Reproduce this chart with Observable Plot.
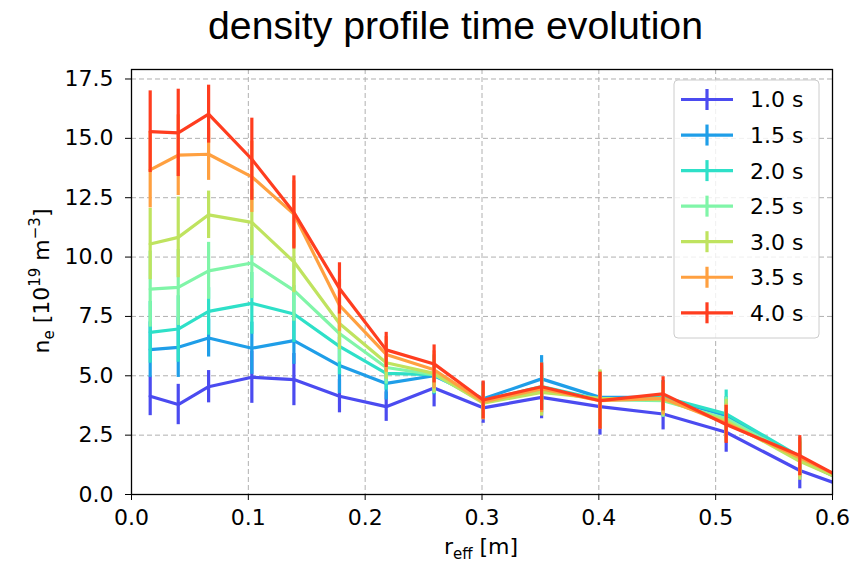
<!DOCTYPE html>
<html><head><meta charset="utf-8">
<script src="https://cdn.jsdelivr.net/npm/d3@7"></script>
<script src="https://cdn.jsdelivr.net/npm/@observablehq/plot@0.6"></script>
<style>body{margin:0;background:#fff;} svg{display:block}</style>
</head><body><div id="chart"></div>
<script>
// r_eff positions [m]
const reff = [0.016, 0.040, 0.066, 0.103, 0.139, 0.178, 0.218, 0.259, 0.301, 0.351, 0.401, 0.455, 0.509, 0.572, 0.600];
const times = ["1.0 s", "1.5 s", "2.0 s", "2.5 s", "3.0 s", "3.5 s", "4.0 s"];
const colors = ["#4b4bf0", "#1f9ee8", "#2ee0c8", "#80f5a8", "#bfe35f", "#ffa040", "#ff3d1f"];
// n_e values [1e19 m^-3]
const ne_10 = [4.14, 3.79, 4.54, 4.94, 4.84, 4.14, 3.70, 4.49, 3.65, 4.09, 3.70, 3.39, 2.62, 1.01, 0.52];
const ne_15 = [6.10, 6.20, 6.59, 6.16, 6.48, 5.43, 4.68, 5.00, 4.03, 4.87, 4.09, 4.09, 3.32, 1.46, 0.80];
const ne_20 = [6.83, 6.97, 7.71, 8.05, 7.60, 6.24, 5.10, 5.05, 3.95, 4.55, 4.00, 4.10, 3.40, 1.60, 0.85];
const ne_25 = [8.65, 8.72, 9.42, 9.75, 8.60, 6.78, 5.35, 5.05, 3.90, 4.40, 4.00, 3.95, 3.20, 1.50, 0.85];
const ne_30 = [10.55, 10.83, 11.78, 11.46, 9.80, 7.20, 5.55, 5.10, 3.85, 4.30, 4.05, 4.00, 3.10, 1.40, 0.80];
const ne_35 = [13.67, 14.29, 14.33, 13.38, 11.81, 7.97, 5.90, 5.25, 3.90, 4.45, 3.95, 4.05, 3.00, 1.55, 0.90];
const ne_40 = [15.28, 15.23, 16.02, 14.12, 11.88, 8.68, 6.09, 5.50, 3.98, 4.54, 3.95, 4.24, 2.95, 1.64, 0.90];
// error bar half-widths
const err_10 = [0.82, 0.85, 0.68, 1.10, 1.10, 0.70, 0.62, 0.80, 0.65, 0.90, 1.20, 0.67, 0.84, 0.77, 0];
const err_15 = [1.17, 1.27, 0.80, 1.10, 1.00, 1.18, 0.70, 0.80, 0.70, 0.98, 1.10, 0.70, 0.80, 0.75, 0];
const err_20 = [1.30, 1.40, 1.00, 1.30, 1.20, 1.20, 0.70, 0.80, 0.70, 1.00, 1.10, 0.70, 1.00, 0.80, 0];
const err_25 = [1.60, 1.60, 1.20, 1.50, 1.30, 1.20, 0.70, 0.80, 0.70, 1.00, 1.20, 0.70, 0.90, 0.80, 0];
const err_30 = [1.50, 1.70, 1.00, 1.40, 1.30, 1.10, 0.70, 0.80, 0.70, 1.00, 1.20, 0.70, 0.90, 0.80, 0];
const err_35 = [1.60, 1.70, 1.10, 1.50, 1.40, 1.10, 0.75, 0.80, 0.75, 1.00, 1.20, 0.70, 0.80, 0.80, 0];
const err_40 = [1.72, 1.84, 1.22, 1.73, 1.54, 1.08, 0.74, 0.80, 0.80, 1.00, 1.20, 0.72, 0.80, 0.84, 0];
const xTicks = [0.0, 0.1, 0.2, 0.3, 0.4, 0.5, 0.6];
const yTicks = [0.0, 2.5, 5.0, 7.5, 10.0, 12.5, 15.0, 17.5];

const neList = [ne_10, ne_15, ne_20, ne_25, ne_30, ne_35, ne_40];
const errList = [err_10, err_15, err_20, err_25, err_30, err_35, err_40];

const grid = {stroke: "#b0b0b0", strokeOpacity: 1, strokeWidth: 1, strokeDasharray: "5,3"};
const marks = [Plot.gridX(xTicks, grid), Plot.gridY(yTicks, grid)];
neList.forEach((vals, i) => {
  const rows = vals.map((v, j) => ({r: reff[j], ne: v, err: errList[i][j]}));
  marks.push(Plot.line(rows, {x: "r", y: "ne", stroke: colors[i], strokeWidth: 3.2, clip: true}));
  marks.push(Plot.ruleX(rows.filter(d => d.err > 0), {x: "r", y1: d => d.ne - d.err, y2: d => d.ne + d.err, stroke: colors[i], strokeWidth: 3.2, clip: true}));
});
marks.push(Plot.frame({stroke: "black", strokeWidth: 1.3}));
marks.push(Plot.axisX(xTicks, {tickSize: 6, tickPadding: 9, tickFormat: d3.format(".1f"), label: null}));
marks.push(Plot.axisY(yTicks, {tickSize: 6, tickPadding: 12, tickFormat: d3.format(".1f"), label: null}));

const svg = Plot.plot({
  width: 856, height: 566,
  marginTop: 69, marginBottom: 72, marginLeft: 131, marginRight: 24,
  x: {domain: [0, 0.6]},
  y: {domain: [0, 17.9]},
  style: {fontFamily: "DejaVu Sans", fontSize: "22px", color: "black", background: "white"},
  marks
});
document.getElementById("chart").appendChild(svg);

const s = d3.select(svg);
// title
s.append("text").attr("x", 455.5).attr("y", 39).attr("text-anchor", "middle")
  .attr("font-family", "Liberation Sans").attr("font-size", 38.5)
  .attr("textLength", 495).attr("lengthAdjust", "spacingAndGlyphs")
  .attr("fill", "black").text("density profile time evolution");
// x label
const xl = s.append("text").attr("x", 481).attr("y", 554).attr("text-anchor", "middle")
  .attr("font-family", "DejaVu Sans").attr("font-size", 22).attr("fill", "black");
xl.append("tspan").text("r");
xl.append("tspan").attr("dy", 5).attr("font-size", 15).text("eff");
xl.append("tspan").attr("dy", -5).text(" [m]");
// y label
const yl = s.append("text").attr("transform", "translate(49,281) rotate(-90)").attr("text-anchor", "middle")
  .attr("font-family", "DejaVu Sans").attr("font-size", 22).attr("fill", "black");
yl.append("tspan").text("n");
yl.append("tspan").attr("dy", 5).attr("font-size", 15).text("e");
yl.append("tspan").attr("dy", -5).text(" [10");
yl.append("tspan").attr("dy", -9).attr("font-size", 15).text("19");
yl.append("tspan").attr("dy", 9).text(" m");
yl.append("tspan").attr("dy", -9).attr("font-size", 15).text("\u22123");
yl.append("tspan").attr("dy", 9).text("]");
// legend
const lg = s.append("g");
lg.append("rect").attr("x", 674).attr("y", 80).attr("width", 145).attr("height", 258).attr("rx", 4)
  .attr("fill", "white").attr("fill-opacity", 0.8).attr("stroke", "#cccccc");
times.forEach((t, i) => {
  const y = 99.5 + i * 35.55;
  lg.append("line").attr("x1", 681).attr("x2", 733).attr("y1", y).attr("y2", y).attr("stroke", colors[i]).attr("stroke-width", 3.2);
  lg.append("line").attr("x1", 707).attr("x2", 707).attr("y1", y - 10.5).attr("y2", y + 10.5).attr("stroke", colors[i]).attr("stroke-width", 3.2);
  lg.append("text").attr("x", 750).attr("y", y).attr("dy", "0.36em").attr("text-anchor", "start")
    .attr("font-family", "DejaVu Sans").attr("font-size", 22).attr("fill", "black").text(t);
});
</script>
</body></html>
